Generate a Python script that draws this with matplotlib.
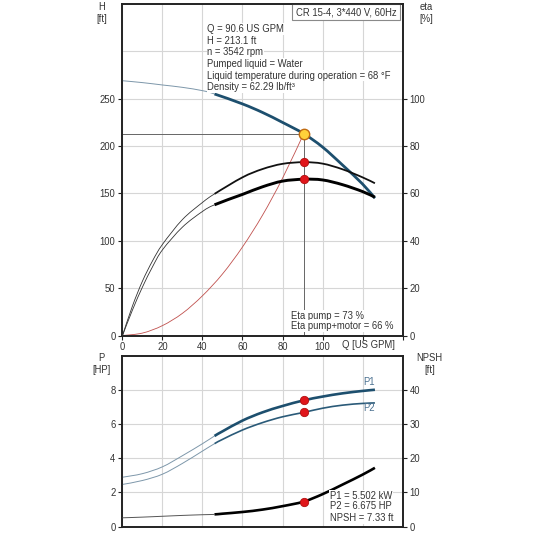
import matplotlib
matplotlib.use('Agg')
import matplotlib.pyplot as plt
from matplotlib.path import Path
from matplotlib.patches import PathPatch

plt.rcParams['font.family'] = ['Liberation Sans', 'DejaVu Sans']

# ---------------- data ----------------
q_split = 46  # start of the bold (recommended) part of each curve

Q_H = [0, 10, 20, 30, 40, 46, 60, 70, 80, 90.6, 100, 110, 120, 126.2]
H_ft = [269, 267, 264.5, 262, 258.5, 255, 244.5, 235.5, 225, 213.1, 199, 180, 160, 145]

Q_eta = [0, 5, 10, 15, 20, 30, 40, 46, 60, 70, 80, 90.6, 100, 110, 120, 126.2]
eta_pump = [0, 12.5, 23, 31.5, 38.5, 49, 56.2, 59.8, 66.8, 70.3, 72.5, 73.2, 72.6, 70.2, 66.8, 64.3]
eta_total = [0, 10.8, 20.5, 29, 36.2, 45.8, 52.4, 55.2, 59.6, 62.8, 65.2, 66.0, 65.7, 63.7, 60.8, 58.4]

Q_sys = [0, 10, 20, 30, 40, 50, 60, 70, 80, 90.6]
H_sys = [0, 2.6, 10.5, 23.5, 42, 65, 93.5, 127, 166, 213.1]

Q_P = [0, 10, 20, 30, 40, 46, 50, 60, 70, 80, 90.6, 100, 110, 120, 126.2]
P1_hp = [2.89, 3.1, 3.5, 4.15, 4.85, 5.3, 5.57, 6.2, 6.68, 7.05, 7.38, 7.6, 7.79, 7.93, 8.0]
P2_hp = [2.47, 2.7, 3.07, 3.7, 4.42, 4.85, 5.1, 5.65, 6.08, 6.42, 6.675, 6.92, 7.1, 7.2, 7.23]
NPSH_ft = [2.6, 2.8, 3.05, 3.3, 3.5, 3.6, 3.8, 4.3, 5.0, 6.0, 7.33, 9.5, 12.3, 15.2, 17.2]

duty_Q = 90.6
duty_H = 213.1
duty_eta_pump = 73.2
duty_eta_total = 66.0
duty_P1 = 7.38
duty_P2 = 6.675
duty_NPSH = 7.33

title_box = "CR 15-4, 3*440 V, 60Hz"
info_lines = ["Q = 90.6 US GPM", "H = 213.1 ft", "n = 3542 rpm",
              "Pumped liquid = Water",
              "Liquid temperature during operation = 68 \u00b0F",
              "Density = 62.29 lb/ft\u00b3"]
eta_lines = ["Eta pump = 73 %", "Eta pump+motor = 66 %"]
power_lines = ["P1 = 5.502 kW", "P2 = 6.675 HP", "NPSH = 7.33 ft"]

x_ticks = [0, 20, 40, 60, 80, 100, 120, 140]
x_labels = ['0', '20', '40', '60', '80', '100', '', '']
H_ticks = [0, 50, 100, 150, 200, 250]
eta_ticks = [0, 20, 40, 60, 80, 100]
P_ticks = [0, 2, 4, 6, 8]
NPSH_ticks = [0, 10, 20, 30, 40]

# ---------------- style ----------------
FS = 6.85
TXT = '#333333'
GRID = '#d6d6d6'
BLUE = '#1d4f6e'
BLUE_THIN = '#7d97aa'
RED = '#e0161b'


def bezier_segments(xs, ys):
    """Catmull-Rom style cubic Bezier segments through the given points."""
    pts = list(zip(xs, ys))
    n = len(pts)
    segs = []
    for i in range(n - 1):
        p0 = pts[i - 1] if i > 0 else pts[i]
        p1 = pts[i]
        p2 = pts[i + 1]
        p3 = pts[i + 2] if i + 2 < n else pts[i + 1]
        c1 = (p1[0] + (p2[0] - p0[0]) / 6.0, p1[1] + (p2[1] - p0[1]) / 6.0)
        c2 = (p2[0] - (p3[0] - p1[0]) / 6.0, p2[1] - (p3[1] - p1[1]) / 6.0)
        segs.append((p1, c1, c2, p2))
    return segs


def add_segs(a, segs, color, lw, zorder):
    verts = [segs[0][0]]
    codes = [Path.MOVETO]
    for s in segs:
        verts += [s[1], s[2], s[3]]
        codes += [Path.CURVE4] * 3
    a.add_patch(PathPatch(Path(verts, codes), fill=False, ec=color, lw=lw,
                          zorder=zorder, capstyle='butt', joinstyle='round'))


def draw_curve(a, xs, ys, color, lw, zorder=3):
    add_segs(a, bezier_segments(xs, ys), color, lw, zorder)


def draw_split(a, xs, ys, thin_color, thin_lw, bold_color, bold_lw):
    segs = bezier_segments(xs, ys)
    k = xs.index(q_split)
    add_segs(a, segs[:k], thin_color, thin_lw, 3)
    add_segs(a, segs[k:], bold_color, bold_lw, 3)


def style_axes(a, ar):
    for s in list(a.spines.values()) + list(ar.spines.values()):
        s.set_color('#222222')
        s.set_linewidth(1.2)
    for t in (a, ar):
        t.tick_params(direction='out', length=3, width=0.8, labelsize=FS,
                      labelcolor=TXT, color='#222222', pad=2)


fig = plt.figure(figsize=(5.33, 5.33), dpi=100)

# ================= top: H / eta =================
ax = fig.add_axes([0.2298, 0.3705, 0.5254, 0.622])
axr = ax.twinx()
ax.set_xlim(0, 140)
ax.set_ylim(0, 350)
axr.set_ylim(0, 140)
ax.set_xticks(x_ticks)
ax.set_xticklabels(x_labels)
ax.set_yticks(H_ticks)
axr.set_yticks(eta_ticks)
ax.grid(True, color=GRID, lw=0.8, zorder=0)
ax.axhline(300, color=GRID, lw=0.8, zorder=0)
ax.set_axisbelow(True)
style_axes(ax, axr)

# duty lines
ax.plot([0, duty_Q], [duty_H, duty_H], color='#666666', lw=0.7, zorder=2)
ax.plot([duty_Q, duty_Q], [0, duty_H], color='#666666', lw=0.7, zorder=2)

# system curve
draw_curve(ax, Q_sys, H_sys, '#c0504d', 0.6, zorder=2)

# H curve
draw_split(ax, Q_H, H_ft, BLUE_THIN, 0.7, BLUE, 2.0)

# eta curves
draw_split(axr, Q_eta, eta_pump, '#333333', 0.6, '#111111', 1.3)
draw_split(axr, Q_eta, eta_total, '#333333', 0.6, '#000000', 2.1)

axr.plot([duty_Q], [duty_eta_pump], 'o', ms=6, mfc=RED, mec='#b01010', mew=0.6, zorder=6)
axr.plot([duty_Q], [duty_eta_total], 'o', ms=6, mfc=RED, mec='#b01010', mew=0.6, zorder=6)
ax.plot([duty_Q], [duty_H], 'o', ms=7.5, mfc='#ffd23a', mec='#c06a10', mew=1.0, zorder=6)

# texts
ax.text(111.8, 341.5, title_box, fontsize=FS, color=TXT, ha='center', va='center',
        zorder=5, bbox=dict(boxstyle='square,pad=0.35', fc='white', ec='#8a8a8a', lw=0.8))
for i, line in enumerate(info_lines):
    ax.text(42.5, 323.5 - 12.25 * i, line, fontsize=FS, color=TXT, ha='left', va='center',
            zorder=5, bbox=dict(boxstyle='square,pad=0.1', fc='white', ec='none'))
for i, line in enumerate(eta_lines):
    ax.text(84, 21 - 11 * i, line, fontsize=FS, color=TXT, ha='left', va='center',
            zorder=5, bbox=dict(boxstyle='square,pad=0.1', fc='white', ec='none'))
ax.text(123.0, -5, "Q [US GPM]", fontsize=FS, color=TXT, ha='center', va='top')

fig.text(0.19, 0.975, "H\n[ft]", fontsize=FS, color=TXT, ha='center', va='center', linespacing=1.25)
fig.text(0.799, 0.975, "eta\n[%]", fontsize=FS, color=TXT, ha='center', va='center', linespacing=1.25)

# ================= bottom: P / NPSH =================
bx = fig.add_axes([0.2298, 0.0118, 0.5254, 0.3212])
bxr = bx.twinx()
bx.set_xlim(0, 140)
bx.set_ylim(0, 10)
bxr.set_ylim(0, 50)
bx.set_xticks(x_ticks)
bx.set_xticklabels([])
bx.set_yticks(P_ticks)
bxr.set_yticks(NPSH_ticks)
bx.grid(True, color=GRID, lw=0.8, zorder=0)
bx.set_axisbelow(True)
style_axes(bx, bxr)
bx.tick_params(axis='x', length=0)

draw_split(bx, Q_P, P1_hp, BLUE_THIN, 0.7, BLUE, 1.9)
draw_split(bx, Q_P, P2_hp, BLUE_THIN, 0.7, '#2a5a78', 1.2)
bx.plot([duty_Q], [duty_P1], 'o', ms=6, mfc=RED, mec='#b01010', mew=0.6, zorder=6)
bx.plot([duty_Q], [duty_P2], 'o', ms=6, mfc=RED, mec='#b01010', mew=0.6, zorder=6)
bx.text(123.2, 8.45, "P1", fontsize=FS, color='#4a7090', ha='center', va='center')
bx.text(123.2, 6.93, "P2", fontsize=FS, color='#4a7090', ha='center', va='center')

draw_split(bxr, Q_P, NPSH_ft, '#555555', 0.7, '#000000', 1.9)
bxr.plot([duty_Q], [duty_NPSH], 'o', ms=6, mfc=RED, mec='#b01010', mew=0.6, zorder=6)
for i, line in enumerate(power_lines):
    y = [9.05, 6.15, 2.6][i]
    bxr.text(103.5, y, line, fontsize=FS, color=TXT, ha='left', va='center',
             zorder=5, bbox=dict(boxstyle='square,pad=0.1', fc='white', ec='none'))

fig.text(0.19, 0.317, "P\n[HP]", fontsize=FS, color=TXT, ha='center', va='center', linespacing=1.25)
fig.text(0.806, 0.317, "NPSH\n[ft]", fontsize=FS, color=TXT, ha='center', va='center', linespacing=1.25)

fig.savefig('out.png', dpi=100)
